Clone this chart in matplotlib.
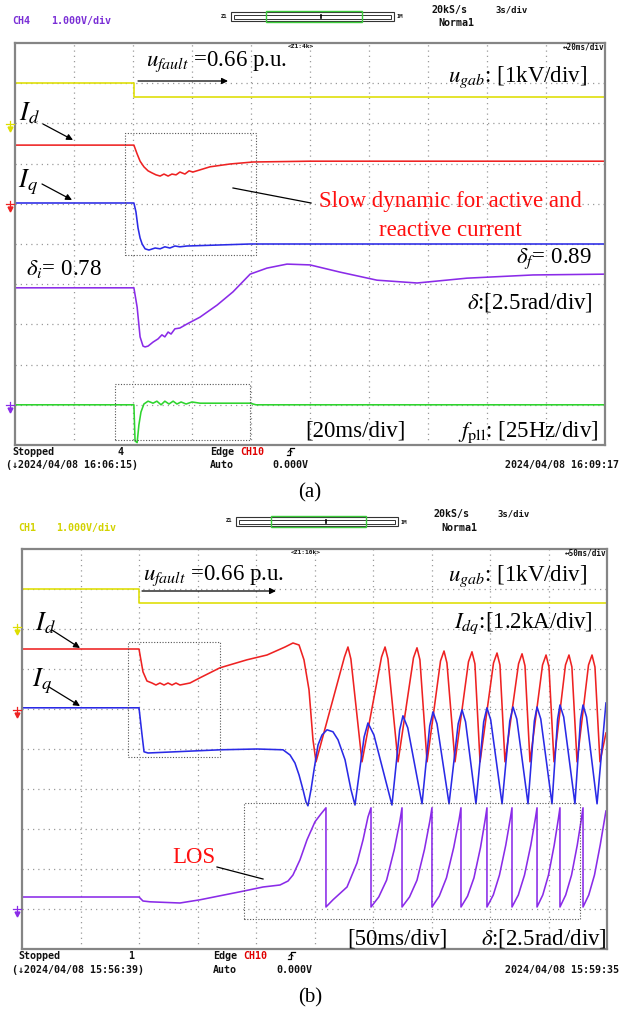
import matplotlib
matplotlib.use('Agg')
import matplotlib.pyplot as plt
from matplotlib.patches import Rectangle
from matplotlib.lines import Line2D

W, H = 620, 1011
plt.rcParams['mathtext.fontset'] = 'stix'
SERIF = 'Liberation Serif'
MONO = 'DejaVu Sans Mono'

# ---------------- data, panel (a): time in ms (20 ms/div), amplitude in div ----------------
a_ms_per_div = 20
a_ugab_t = [0, 40.3, 40.3, 200]
a_ugab_v = [9.0, 9.0, 8.65, 8.65]

a_id_t = [0, 40.3, 41.4, 42.4, 43.7, 45.1, 46.4, 47.8, 49.2, 50.5, 51.9, 53.2, 54.6, 55.9,
          57.6, 59.0, 60.3, 66.1, 72.9, 80.7, 100, 200]
a_id_v = [7.46, 7.46, 7.24, 7.06, 6.92, 6.82, 6.77, 6.72, 6.69, 6.74, 6.69, 6.74, 6.72, 6.79,
          6.74, 6.82, 6.79, 6.92, 6.99, 7.04, 7.06, 7.06]

a_iq_t = [0, 40.3, 41.0, 41.7, 42.4, 43.1, 44.1, 45.4, 47.5, 49.2, 50.8, 52.5, 54.2, 55.9,
          58.3, 62.7, 79.7, 200]
a_iq_v = [6.02, 6.02, 5.80, 5.40, 5.15, 5.0, 4.88, 4.85, 4.90, 4.88, 4.93, 4.90, 4.95, 4.93,
          4.95, 4.96, 5.0, 5.0]

a_delta_t = [0, 40.3, 41.4, 42.4, 43.4, 44.1, 45.1, 46.8, 48.5, 49.8, 50.8, 51.9, 52.9, 54.2,
             55.9, 58.3, 62.7, 68.5, 73.9, 79.7, 85.4, 92.2, 100, 110.2, 122.7, 136.3,
             153.2, 175.6, 200]
a_delta_v = [3.91, 3.91, 3.43, 2.69, 2.46, 2.44, 2.46, 2.56, 2.64, 2.74, 2.69, 2.81, 2.76, 2.89,
             2.91, 3.01, 3.18, 3.48, 3.81, 4.25, 4.40, 4.50, 4.48, 4.30, 4.10, 4.03,
             4.15, 4.23, 4.25]

a_fpll_t = [0, 40.3, 40.7, 41.4, 42.0, 42.7, 43.7, 45.1, 46.8, 48.1, 49.5, 50.8, 52.2, 53.6,
            54.9, 56.3, 58.0, 60.0, 62.7, 79.7, 81.7, 200]
a_fpll_v = [1.0, 1.0, 0.10, 0.06, 0.50, 0.82, 1.02, 1.09, 1.04, 1.09, 1.0, 1.09, 1.02, 1.09,
            1.02, 1.07, 1.02, 1.07, 1.04, 1.04, 1.0, 1.0]

# ---------------- data, panel (b): time in ms (50 ms/div), amplitude in div ----------------
b_ms_per_div = 50
b_ugab_t = [0, 100, 100, 500]
b_ugab_v = [9.0, 9.0, 8.65, 8.65]

b_id_t = [0, 100.0, 103.4, 106.8, 111.1, 114.5, 117.9, 121.4, 124.8, 128.2, 131.6, 135.0,
          143.6, 152.1, 169.2, 192.3, 209.4, 224.8, 231.6, 236.8, 241.0, 245.3, 248.7, 251.3,
          275.6, 278.6, 281.1, 290.6,
          307.3, 310.3, 312.8, 321.4,
          334.6, 337.6, 340.1, 346.2,
          357.7, 360.7, 363.2, 370.1,
          381.6, 384.6, 387.1, 391.5,
          403.0, 406.0, 408.5, 412.8,
          424.4, 427.4, 429.9, 434.2,
          444.9, 447.9, 450.4, 454.7,
          464.5, 467.5, 470.0, 474.4,
          484.2, 487.2, 489.7, 494.0, 499.1]
b_id_v = [7.5, 7.5, 6.93, 6.70, 6.65, 6.60, 6.65, 6.60, 6.65, 6.60, 6.65, 6.60,
          6.65, 6.78, 7.03, 7.23, 7.35, 7.55, 7.65, 7.60, 7.23, 6.48, 5.23, 4.68,
          7.30, 7.55, 7.25, 4.68,
          7.30, 7.55, 7.25, 4.68,
          7.28, 7.53, 7.23, 4.68,
          7.20, 7.45, 7.15, 4.68,
          7.18, 7.43, 7.13, 4.68,
          7.15, 7.40, 7.10, 4.68,
          7.13, 7.38, 7.08, 4.68,
          7.10, 7.35, 7.05, 4.68,
          7.10, 7.35, 7.05, 4.68,
          7.10, 7.35, 7.05, 4.68, 5.40]

b_iq_t = [0, 100.0, 102.6, 104.3, 107.7, 169.2, 200.9, 223.1, 229.1, 233.3, 236.8, 240.2,
          242.7, 244.4, 247.0, 249.6, 253.0, 256.4, 260.7, 265.8, 270.1, 276.1, 281.2, 284.6,
          292.4, 295.7, 300.8, 316.2,
          322.8, 325.6, 329.7, 341.9,
          348.5, 351.3, 354.7, 365.0,
          372.8, 376.1, 379.1, 388.0,
          394.6, 397.4, 400.6, 410.3,
          416.9, 419.7, 422.9, 432.5,
          437.9, 440.2, 443.4, 453.0,
          457.8, 459.8, 463.0, 472.6,
          477.4, 479.5, 482.5, 491.5, 499.1]
b_iq_v = [6.03, 6.03, 5.35, 4.93, 4.90, 4.98, 5.0, 4.98, 4.85, 4.65, 4.35, 3.98,
          3.68, 3.58, 3.98, 4.48, 5.10, 5.35, 5.48, 5.43, 5.23, 4.73, 3.98, 3.60,
          5.30, 5.65, 5.35, 3.60,
          5.48, 5.83, 5.53, 3.63,
          5.58, 5.93, 5.63, 3.63,
          5.63, 5.98, 5.68, 3.63,
          5.68, 6.03, 5.73, 3.63,
          5.70, 6.05, 5.75, 3.63,
          5.70, 6.05, 5.75, 3.63,
          5.75, 6.10, 5.80, 3.63,
          5.75, 6.10, 5.80, 3.63, 6.15]

b_delta_t = [0, 100.0, 103.4, 109.4, 135.0, 152.1, 169.2, 189.7, 206.0, 220.5, 227.4, 231.6,
             237.6, 243.6, 250.4, 255.6, 259.8, 259.8,
             265.8, 277.8, 286.3, 291.5, 295.7, 298.3, 298.3,
             304.9, 311.6, 318.2, 323.0, 324.8, 324.8,
             331.2, 337.6, 344.0, 348.6, 350.4, 350.4,
             356.6, 362.8, 369.0, 373.5, 375.2, 375.2,
             380.8, 386.3, 391.9, 395.8, 397.4, 397.4,
             402.8, 408.1, 413.5, 417.3, 418.8, 418.8,
             424.2, 429.5, 434.9, 438.7, 440.2, 440.2,
             445.1, 450.0, 454.9, 458.4, 459.8, 459.8,
             464.7, 469.7, 474.6, 478.1, 479.5, 479.5,
             484.4, 489.3, 494.2, 499.1]
b_delta_v = [1.30, 1.30, 1.20, 1.18, 1.15, 1.23, 1.33, 1.45, 1.55, 1.60, 1.70, 1.85,
             2.23, 2.73, 3.18, 3.38, 3.53, 1.05,
             1.23, 1.55, 2.15, 2.73, 3.30, 3.53, 1.05,
             1.30, 1.72, 2.49, 3.20, 3.53, 1.05,
             1.30, 1.72, 2.49, 3.20, 3.53, 1.05,
             1.32, 1.78, 2.54, 3.22, 3.53, 1.05,
             1.32, 1.78, 2.54, 3.22, 3.53, 1.05,
             1.35, 1.85, 2.60, 3.25, 3.53, 1.05,
             1.35, 1.85, 2.60, 3.25, 3.53, 1.05,
             1.35, 1.85, 2.60, 3.25, 3.53, 1.05,
             1.35, 1.85, 2.60, 3.25, 3.53, 1.05,
             1.35, 1.85, 2.60, 3.45]

# ---------------- colours ----------------
C_Y = '#dede00'
C_R = '#ee2222'
C_B = '#2a2ae6'
C_P = '#8a2be8'
C_G = '#2ed42e'

fig = plt.figure(figsize=(W / 100, H / 100), dpi=100)


def fx(x):
    return x / W


def fy(y):
    return 1 - y / H


def T(x, y, s, **kw):
    kw.setdefault('va', 'center')
    return fig.text(fx(x), fy(y), s, **kw)


def mono(x, y, s, size=7.2, color='#111111', **kw):
    return T(x, y, s, family=MONO, fontweight='bold', fontsize=size, color=color, **kw)


def serif(x, y, s, size=16.5, color='black', **kw):
    return T(x, y, s, family=SERIF, fontsize=size, color=color, **kw)


def arrow(x1, y1, x2, y2):
    fig.add_artist(matplotlib.patches.FancyArrowPatch(
        (fx(x1), fy(y1)), (fx(x2), fy(y2)), transform=fig.transFigure,
        arrowstyle='-|>', mutation_scale=9, color='black', lw=0.9, shrinkA=0, shrinkB=0))


def seg(pts, color='black', lw=0.9, ls='-'):
    xs = [fx(p[0]) for p in pts]
    ys = [fy(p[1]) for p in pts]
    fig.add_artist(Line2D(xs, ys, transform=fig.transFigure, color=color, lw=lw, ls=ls))


def dbox(x0, y0, x1, y1):
    fig.add_artist(Rectangle((fx(x0), fy(y1)), (x1 - x0) / W, (y1 - y0) / H,
                             transform=fig.transFigure, fill=False, ec='#555555',
                             lw=0.8, ls=(0, (1, 1.5))))


def gnd(x, y, color):
    seg([(x - 4, y - 3), (x + 4, y - 3)], color=color, lw=0.9)
    seg([(x, y - 6), (x, y + 1)], color=color, lw=0.9)
    fig.add_artist(Line2D([fx(x)], [fy(y + 2)], transform=fig.transFigure, marker='v',
                          ms=3.5, color=color, mec=color, ls='none'))


def zoombar(x0, x1, y0, y1, gx0, gx1):
    fig.add_artist(Rectangle((fx(x0), fy(y1)), (x1 - x0) / W, (y1 - y0) / H,
                             transform=fig.transFigure, fill=False, ec='#333333', lw=0.8))
    fig.add_artist(Rectangle((fx(x0 + 3), fy(y1 - 2.5)), (x1 - x0 - 6) / W, (y1 - y0 - 5) / H,
                             transform=fig.transFigure, fill=False, ec='#333333', lw=0.7))
    fig.add_artist(Rectangle((fx(gx0), fy(y1 + 1)), (gx1 - gx0) / W, (y1 - y0 + 2) / H,
                             transform=fig.transFigure, fill=False, ec='#3ccc3c', lw=1.0))
    cx = (gx0 + gx1) / 2 + 7
    seg([(cx, y0 + 3), (cx, y0 + 6)], color='black', lw=1.2)


def rising_edge(x, y):
    seg([(x, y + 3), (x + 3, y + 3), (x + 3, y - 4), (x + 7, y - 4)], color='black', lw=0.9)
    seg([(x + 1, y), (x + 3, y - 2), (x + 5, y)], color='black', lw=0.7)


def scope_axes(left, top, right, bottom, ms_per_div):
    ax = fig.add_axes([fx(left), fy(bottom), (right - left) / W, (bottom - top) / H])
    ax.set_xlim(0, 10 * ms_per_div)
    ax.set_ylim(0, 10)
    ax.set_xticks([ms_per_div * k for k in range(1, 10)])
    ax.set_yticks(list(range(1, 10)))
    ax.tick_params(length=0, labelbottom=False, labelleft=False)
    ax.grid(True, color='#9a9a9a', lw=0.9, ls=(0, (1, 3.2)))
    for s in ax.spines.values():
        s.set_color('#858585')
        s.set_linewidth(1.6)
    return ax


LW = 1.15

# ======================= panel (a) =======================
axa = scope_axes(15, 43, 605, 445, a_ms_per_div)
axa.plot(a_ugab_t, a_ugab_v, color=C_Y, lw=LW)
axa.plot(a_id_t, a_id_v, color=C_R, lw=LW)
axa.plot(a_iq_t, a_iq_v, color=C_B, lw=LW)
axa.plot(a_delta_t, a_delta_v, color=C_P, lw=LW)
axa.plot(a_fpll_t, a_fpll_v, color=C_G, lw=LW)

mono(12, 21, 'CH4', color='#7a2fd6')
mono(51, 21, '1.000V/div', color='#7a2fd6')
mono(221, 16, 'Z1', size=4)
zoombar(231, 394, 12, 21, 266, 362)
mono(397, 17, '1M', size=4)
mono(431, 10, '20kS/s')
mono(495, 10, '3s/div', size=6.5)
mono(438, 23, 'Norma1')
mono(288, 47, '<Z1:4k>', size=4.5)
mono(604, 47, '\u219420ms/div', size=5.5, ha='right')

gnd(10, 127, C_Y)
gnd(10, 207, C_R)
gnd(10, 408, C_P)

serif(146, 66, r'$u_{fault}$ =0.66 p.u.', va='baseline')
arrow(138, 81, 228, 81)
serif(587, 82, r'$u_{gab}$: [1kV/div]', va='baseline', ha='right')
serif(19, 120, r'$I_d$', size=19, va='baseline')
arrow(43, 124, 73, 140)
serif(18, 187, r'$I_q$', size=19, va='baseline')
arrow(42, 184, 72, 200)
dbox(125, 133, 256, 255)
seg([(233, 188), (311, 203)])
serif(450, 207, 'Slow dynamic for active and', color='#ff1010', ha='center', va='baseline')
serif(450, 236, 'reactive current', color='#ff1010', ha='center', va='baseline')
serif(26, 275, r'$\delta_i$= 0.78', va='baseline')
serif(592, 263, r'$\delta_f$= 0.89', va='baseline', ha='right')
serif(593, 308, r'$\delta$:[2.5rad/div]', va='baseline', ha='right')
dbox(115, 384, 250, 440)
serif(305, 437, '[20ms/div]', va='baseline')
serif(598, 437, r'$f_{\rm pll}$: [25Hz/div]', va='baseline', ha='right')

mono(12, 452, 'Stopped')
mono(118, 452, '4')
mono(210, 452, 'Edge')
mono(240, 452, 'CH10', color='#e00000')
rising_edge(287, 452)
mono(6, 465, '(\u21932024/04/08 16:06:15)')
mono(210, 465, 'Auto')
mono(272, 465, '0.000V')
mono(619, 465, '2024/04/08 16:09:17', ha='right')
serif(310, 493, '(a)', size=15, ha='center')

# ======================= panel (b) =======================
axb = scope_axes(22, 549, 607, 949, b_ms_per_div)
axb.plot(b_ugab_t, b_ugab_v, color=C_Y, lw=LW)
axb.plot(b_id_t, b_id_v, color=C_R, lw=LW)
axb.plot(b_iq_t, b_iq_v, color=C_B, lw=LW)
axb.plot(b_delta_t, b_delta_v, color=C_P, lw=LW)

mono(18, 528, 'CH1', color='#d2d200')
mono(56, 528, '1.000V/div', color='#d2d200')
mono(226, 521, 'Z1', size=4)
zoombar(236, 398, 517, 526, 271, 366)
mono(401, 522, '1M', size=4)
mono(434, 514, '20kS/s')
mono(497, 514, '3s/div', size=6.5)
mono(441, 528, 'Norma1')
mono(291, 553, '<Z1:10k>', size=4.5)
mono(606, 553, '\u219450ms/div', size=5.5, ha='right')

gnd(17, 630, C_Y)
gnd(17, 713, C_R)
gnd(17, 912, C_P)

serif(143, 580, r'$u_{fault}$ =0.66 p.u.', va='baseline')
arrow(142, 591, 276, 591)
serif(587, 581, r'$u_{gab}$: [1kV/div]', va='baseline', ha='right')
serif(593, 628, r'$I_{dq}$:[1.2kA/div]', va='baseline', ha='right')
serif(35, 630, r'$I_d$', size=19, va='baseline')
arrow(52, 630, 80, 648)
serif(32, 686, r'$I_q$', size=19, va='baseline')
arrow(49, 687, 80, 706)
dbox(128, 642, 220, 757)
dbox(244, 803, 580, 919)
serif(172, 863, 'LOS', color='#ff1010', va='baseline')
seg([(217, 867), (263, 879)])
serif(347, 944, '[50ms/div]', va='baseline')
serif(607, 944, r'$\delta$:[2.5rad/div]', va='baseline', ha='right')

mono(18, 956, 'Stopped')
mono(128, 956, '1')
mono(213, 956, 'Edge')
mono(243, 956, 'CH10', color='#e00000')
rising_edge(288, 956)
mono(12, 970, '(\u21932024/04/08 15:56:39)')
mono(213, 970, 'Auto')
mono(276, 970, '0.000V')
mono(619, 970, '2024/04/08 15:59:35', ha='right')
serif(310, 998, '(b)', size=15, ha='center')

fig.savefig('out.png', dpi=100, facecolor='white')
